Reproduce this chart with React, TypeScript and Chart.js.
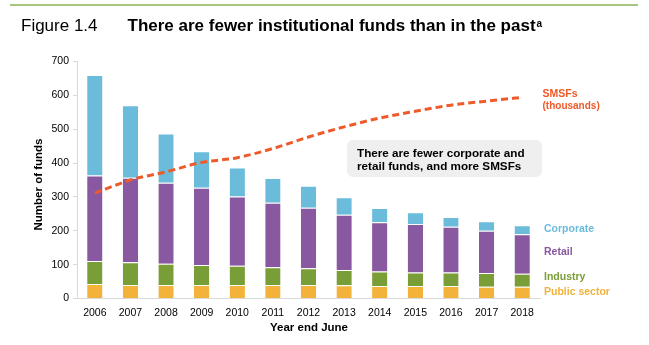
import React, { useEffect, useRef } from "react";
import { Chart, registerables } from "chart.js";

Chart.register(...registerables);

const years = ["2006","2007","2008","2009","2010","2011","2012","2013","2014","2015","2016","2017","2018"];
const publicSector = [43, 40, 40, 40, 40, 40, 40, 39, 37, 37, 37, 35, 35];
const industry = [68, 67, 63, 59, 57, 52, 49, 45, 43, 40, 40, 40, 38];
const retail = [252, 250, 239, 228, 204, 191, 179, 163, 145, 143, 135, 125, 117];
const corporate = [297, 214, 145, 108, 86, 73, 65, 52, 42, 35, 29, 28, 26];
const smsfThousands = [311, 350, 374, 402, 416, 443, 477, 507, 533, 553, 571, 583, 594];
const yTicks = [0, 100, 200, 300, 400, 500, 600, 700];

const COLORS = {
  corporate: "#6BBCDA",
  retail: "#8858A0",
  industry: "#7A9E37",
  publicSector: "#F3B23A",
  smsf: "#EF5A2A",
};

const FONT = "'Liberation Sans', Arial, sans-serif";

const textPlugin = {
  id: "textPlugin",
  afterDraw(chart: any) {
    const ctx = chart.ctx as CanvasRenderingContext2D;
    ctx.save();
    // top green rule
    ctx.strokeStyle = "#8DB356";
    ctx.lineWidth = 1.5;
    ctx.beginPath();
    ctx.moveTo(10, 5);
    ctx.lineTo(638, 5);
    ctx.stroke();

    // title
    ctx.fillStyle = "#000";
    ctx.textBaseline = "alphabetic";
    ctx.textAlign = "left";
    ctx.font = `17px ${FONT}`;
    ctx.fillText("Figure 1.4", 21, 31);
    ctx.font = `bold 17px ${FONT}`;
    const title = "There are fewer institutional funds than in the past";
    ctx.fillText(title, 127.5, 31);
    const tw = ctx.measureText(title).width;
    ctx.font = `bold 10px ${FONT}`;
    ctx.fillText("a", 127.5 + tw + 1, 27);

    // axis titles
    ctx.font = `bold 11.5px ${FONT}`;
    ctx.textAlign = "center";
    ctx.textBaseline = "middle";
    ctx.fillText("Year end June", 309, 328);
    ctx.save();
    ctx.translate(38.5, 184.5);
    ctx.rotate(-Math.PI / 2);
    ctx.fillText("Number of funds", 0, 0);
    ctx.restore();

    // legend labels
    ctx.textAlign = "left";
    ctx.textBaseline = "middle";
    ctx.font = `bold 10.5px ${FONT}`;
    ctx.fillStyle = COLORS.smsf;
    ctx.fillText("SMSFs", 542.5, 94.5);
    ctx.font = `bold 10px ${FONT}`;
    ctx.fillText("(thousands)", 542.5, 106.5);
    ctx.font = `bold 10.5px ${FONT}`;
    ctx.fillStyle = COLORS.corporate;
    ctx.fillText("Corporate", 544, 229.5);
    ctx.fillStyle = COLORS.retail;
    ctx.fillText("Retail", 544, 252.5);
    ctx.fillStyle = COLORS.industry;
    ctx.fillText("Industry", 544, 277.5);
    ctx.fillStyle = COLORS.publicSector;
    ctx.fillText("Public sector", 544, 292.5);

    // annotation box
    ctx.fillStyle = "#EFEFEF";
    ctx.beginPath();
    (ctx as any).roundRect(347, 140, 195, 37, 6);
    ctx.fill();
    ctx.fillStyle = "#000";
    ctx.font = `bold 11.7px ${FONT}`;
    ctx.fillText("There are fewer corporate and", 357, 154);
    ctx.fillText("retail funds, and more SMSFs", 357, 166.5);
    ctx.restore();
  },
};

export default function App() {
  const ref = useRef<HTMLCanvasElement | null>(null);
  useEffect(() => {
    if (!ref.current) return;
    const barCommon = {
      barPercentage: 0.43,
      categoryPercentage: 1,
      order: 1,
      stack: "funds",
      borderWidth: { top: 1, left: 0, right: 0, bottom: 0 },
      borderColor: "rgba(255,255,255,0.45)",
      borderSkipped: false,
    };
    const chart = new Chart(ref.current, {
      type: "bar",
      data: {
        labels: years,
        datasets: [
          { type: "line", label: "SMSFs (thousands)", data: smsfThousands, borderColor: COLORS.smsf, borderWidth: 3, borderDash: [7, 4], pointRadius: 0, cubicInterpolationMode: "monotone", order: 0, stack: "smsf", fill: false } as any,
          { label: "Public sector", data: publicSector, backgroundColor: COLORS.publicSector, ...barCommon },
          { label: "Industry", data: industry, backgroundColor: COLORS.industry, ...barCommon },
          { label: "Retail", data: retail, backgroundColor: COLORS.retail, ...barCommon },
          { label: "Corporate", data: corporate, backgroundColor: COLORS.corporate, ...barCommon },
        ],
      },
      options: {
        responsive: false,
        animation: false,
        layout: { padding: { left: 0, top: 61.5, right: 109, bottom: 0 } },
        plugins: { legend: { display: false }, tooltip: { enabled: false }, title: { display: false } },
        scales: {
          x: {
            stacked: true,
            grid: { display: false, drawTicks: false },
            border: { display: true, color: "#D9D9D9", width: 1 },
            ticks: { color: "#000", font: { family: FONT, size: 10.5 }, padding: 8, maxRotation: 0 },
            afterFit: (s: any) => { s.height = 46.5; },
          },
          y: {
            stacked: true,
            min: 0,
            max: 700,
            afterBuildTicks: (s: any) => { s.ticks = yTicks.map((v) => ({ value: v })); },
            grid: { display: true, drawOnChartArea: false, drawTicks: true, tickLength: 4, color: "#D9D9D9" },
            border: { display: true, color: "#D9D9D9", width: 1 },
            ticks: { color: "#000", font: { family: FONT, size: 10.5 }, padding: 4 },
            afterFit: (s: any) => { s.width = 77; },
          },
        },
      },
      plugins: [textPlugin],
    } as any);
    return () => chart.destroy();
  }, []);
  return (
    <div style={{ position: "fixed", left: 0, top: 0, width: 649, height: 345, background: "#fff" }}>
      <canvas ref={ref} width={649} height={345} style={{ width: 649, height: 345, display: "block" }} />
    </div>
  );
}
